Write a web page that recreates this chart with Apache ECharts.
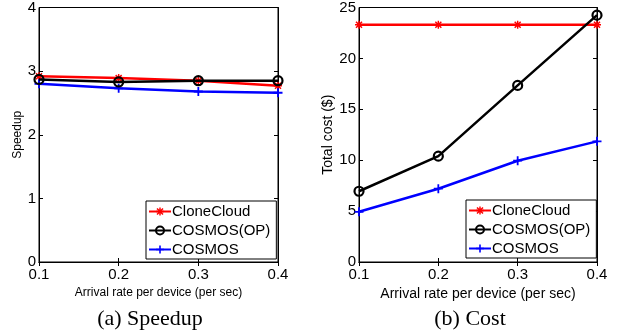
<!DOCTYPE html>
<html>
<head>
<meta charset="utf-8">
<script src="https://cdn.jsdelivr.net/npm/echarts@6/dist/echarts.min.js"></script>
<style>
html,body{margin:0;padding:0;background:#fff;}
#c{width:618px;height:334px;}
</style>
</head>
<body>
<div id="c"></div>
<script>
var categories = ['0.1', '0.2', '0.3', '0.4'];
var seriesNames = ['CloneCloud', 'COSMOS(OP)', 'COSMOS'];
var speedupCloneCloud = [2.92, 2.89, 2.85, 2.77];
var speedupCosmosOP = [2.87, 2.83, 2.85, 2.85];
var speedupCosmos = [2.80, 2.73, 2.68, 2.66];
var costCloneCloud = [23.3, 23.3, 23.3, 23.3];
var costCosmosOP = [6.95, 10.4, 17.35, 24.25];
var costCosmos = [4.93, 7.2, 9.95, 11.85];
var speedupTicks = [0, 1, 2, 3, 4];
var costTicks = [0, 5, 10, 15, 20, 25];
var xTitle = 'Arrival rate per device (per sec)';
var captions = ['(a) Speedup', '(b) Cost'];

var SANS = '"Liberation Sans", Arial, Helvetica, sans-serif';
var SERIF = '"Liberation Serif", "Times New Roman", serif';
var colors = ['#ff0000', '#000000', '#0000ff'];
var asterisk = 'path://M4.1,0H5.9V10H4.1Z M0,4.1H10V5.9H0Z M0.6,1.9L1.9,0.6L9.4,8.1L8.1,9.4Z M8.1,0.6L9.4,1.9L1.9,9.4L0.6,8.1Z';
var plus = 'path://M4,0H6V4H10V6H6V10H4V6H0V4H4Z';

var grids = [
  {left: 39, right: 340, top: 7, bottom: 72, show: true, borderColor: '#000', borderWidth: 1},
  {left: 359, right: 21, top: 7, bottom: 72, show: true, borderColor: '#000', borderWidth: 1}
];

function xAx(gi, fs, gap) {
  return {
    type: 'category', gridIndex: gi, data: categories, boundaryGap: false,
    name: xTitle, nameLocation: 'middle', nameGap: gap,
    nameTextStyle: {fontFamily: SANS, fontSize: fs, color: '#000'},
    axisLine: {lineStyle: {color: '#000', width: 1}},
    axisTick: {inside: true, length: 4, lineStyle: {color: '#000'}},
    axisLabel: {fontFamily: SANS, fontSize: 15, color: '#000', margin: 5},
    splitLine: {show: false}
  };
}
function xTop(gi) {
  return {
    type: 'category', gridIndex: gi, data: categories, boundaryGap: false, position: 'top',
    axisLine: {lineStyle: {color: '#000', width: 1}},
    axisTick: {inside: true, length: 4, lineStyle: {color: '#000'}},
    axisLabel: {show: false}, splitLine: {show: false}
  };
}
function yAx(gi, ticks, name, fs, gap) {
  return {
    type: 'value', gridIndex: gi, min: ticks[0], max: ticks[ticks.length - 1],
    interval: ticks[1] - ticks[0],
    name: name, nameLocation: 'middle', nameGap: gap,
    nameTextStyle: {fontFamily: SANS, fontSize: fs, color: '#000'},
    axisLine: {show: true, lineStyle: {color: '#000', width: 1}},
    axisTick: {show: true, inside: true, length: 4, lineStyle: {color: '#000'}},
    axisLabel: {fontFamily: SANS, fontSize: 15, color: '#000', margin: 3},
    splitLine: {show: false}
  };
}
function yRight(gi, ticks) {
  return {
    type: 'value', gridIndex: gi, position: 'right', min: ticks[0], max: ticks[ticks.length - 1],
    interval: ticks[1] - ticks[0],
    axisLine: {show: true, lineStyle: {color: '#000', width: 1}},
    axisTick: {show: true, inside: true, length: 4, lineStyle: {color: '#000'}},
    axisLabel: {show: false}, splitLine: {show: false}
  };
}

function mk(name, data, xi, yi, idx) {
  var sym = idx === 0 ? asterisk : (idx === 1 ? 'circle' : plus);
  var size = idx === 1 ? 9 : (idx === 0 ? 8 : 9);
  return {
    type: 'line', name: name, data: data, xAxisIndex: xi, yAxisIndex: yi,
    symbol: sym, symbolSize: size, showAllSymbol: true,
    lineStyle: {color: colors[idx], width: 2.5},
    itemStyle: idx === 1 ? {color: 'rgba(0,0,0,0)', borderColor: '#000', borderWidth: 2.2} : {color: colors[idx], borderWidth: 0},
    z: idx === 1 ? 3 : 2,
    animation: false
  };
}

function legendAt(left, top) {
  return {
    orient: 'vertical', left: left, top: top, data: seriesNames,
    backgroundColor: '#fff', borderColor: '#000', borderWidth: 1,
    padding: [3, 6, 2, 2], itemGap: 4, itemWidth: 22, itemHeight: 10,
    textStyle: {fontFamily: SANS, fontSize: 15, color: '#000', padding: [0, 0, 0, -4]},
    selectedMode: false
  };
}

var option = {
  backgroundColor: '#fff',
  animation: false,
  grid: grids,
  xAxis: [xAx(0, 12, 19), xAx(1, 14, 17), xTop(0), xTop(1)],
  yAxis: [yAx(0, speedupTicks, 'Speedup', 12, 15), yAx(1, costTicks, 'Total cost ($)', 14, 23),
          yRight(0, speedupTicks), yRight(1, costTicks)],
  legend: [legendAt(146, 201), legendAt(466, 200)],
  series: [
    mk(seriesNames[0], speedupCloneCloud, 0, 0, 0),
    mk(seriesNames[1], speedupCosmosOP, 0, 0, 1),
    mk(seriesNames[2], speedupCosmos, 0, 0, 2),
    mk(seriesNames[0], costCloneCloud, 1, 1, 0),
    mk(seriesNames[1], costCosmosOP, 1, 1, 1),
    mk(seriesNames[2], costCosmos, 1, 1, 2)
  ],
  graphic: [
    {type: 'text', x: 150, y: 319, style: {text: captions[0], font: '22px ' + SERIF, fill: '#000', align: 'center', verticalAlign: 'middle'}},
    {type: 'text', x: 470, y: 319, style: {text: captions[1], font: '22px ' + SERIF, fill: '#000', align: 'center', verticalAlign: 'middle'}}
  ]
};

var chart = echarts.init(document.getElementById('c'), null, {renderer: 'canvas'});
chart.setOption(option);
</script>
</body>
</html>
